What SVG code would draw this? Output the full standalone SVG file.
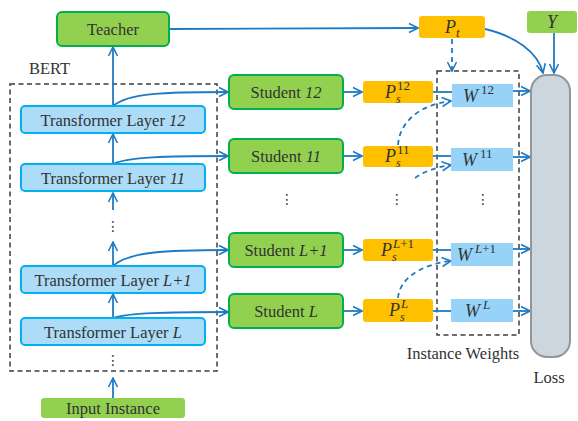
<svg xmlns="http://www.w3.org/2000/svg" width="578" height="421" viewBox="0 0 578 421">
<defs>
<marker id="ah" viewBox="0 0 12 12" refX="11" refY="6" markerWidth="12" markerHeight="12" markerUnits="userSpaceOnUse" orient="auto">
<path d="M2,1.5 L11,6 L2,10.5" fill="none" stroke="#1f7ac4" stroke-width="1.6"/>
</marker>
<style>
.lbl{font-family:"Liberation Serif","Times New Roman",serif;font-size:16.5px;fill:#333;}
.m{font-family:"Liberation Serif","Times New Roman",serif;fill:#333;}
.it{font-style:italic;}
.green{fill:#92d050;stroke:#00b050;stroke-width:2;}
.greenflat{fill:#92d050;}
.tl{fill:#acdcf7;stroke:#00b0f0;stroke-width:2;}
.ps{fill:#ffc000;}
.w{fill:#97d3f9;}
.conn{fill:none;stroke:#1f7ac4;stroke-width:1.8;}
.dconn{fill:none;stroke:#1f7ac4;stroke-width:1.8;stroke-dasharray:5,4;}
.dbox{fill:none;stroke:#3a3f44;stroke-width:1.5;stroke-dasharray:5,3.5;}
.dots{font-family:"DejaVu Sans",sans-serif;font-size:14px;fill:#333;}
</style>
</defs>
<rect width="578" height="421" fill="#fff"/>

<g id="bert-box">
<rect class="dbox" x="10" y="84" width="207" height="287"/>
<text class="lbl" x="29" y="74">BERT</text>
</g>
<g id="iw-box">
<rect class="dbox" x="437" y="71" width="82" height="264"/>
<text class="lbl" x="463" y="359" text-anchor="middle">Instance Weights</text>
</g>

<g id="connectors">
<path class="conn" d="M113,398 L113,378" marker-end="url(#ah)"/>
<path class="conn" d="M113,318 L113,294" marker-end="url(#ah)"/>
<path class="conn" d="M113,266 L113,242" marker-end="url(#ah)"/>
<path class="conn" d="M113,210 L113,193" marker-end="url(#ah)"/>
<path class="conn" d="M113,164 L113,134" marker-end="url(#ah)"/>
<path class="conn" d="M113,106 L113,47" marker-end="url(#ah)"/>
<path class="conn" d="M113,106 C128,93 165,92 228,92" marker-end="url(#ah)"/>
<path class="conn" d="M113,164 C128,157 165,156 228,156" marker-end="url(#ah)"/>
<path class="conn" d="M113,266 C128,252 165,250 228,250" marker-end="url(#ah)"/>
<path class="conn" d="M113,318 C128,313 165,312 228,312" marker-end="url(#ah)"/>
<path class="conn" d="M169,29 L418,28" marker-end="url(#ah)"/>
<path class="conn" d="M343,92 L362,92" marker-end="url(#ah)"/>
<path class="conn" d="M343,156 L362,156" marker-end="url(#ah)"/>
<path class="conn" d="M343,250 L362,250" marker-end="url(#ah)"/>
<path class="conn" d="M343,311 L362,311" marker-end="url(#ah)"/>
<path class="conn" d="M433,92 L452,92"/>
<path class="conn" d="M433,156 L452,156"/>
<path class="conn" d="M433,250 L452,250"/>
<path class="conn" d="M433,311 L452,311"/>
<path class="conn" d="M513,91 L530,91" marker-end="url(#ah)"/>
<path class="conn" d="M513,157 L530,157" marker-end="url(#ah)"/>
<path class="conn" d="M513,249 L530,249" marker-end="url(#ah)"/>
<path class="conn" d="M513,311 L530,311" marker-end="url(#ah)"/>
<path class="conn" d="M485,29 C515,36 538,52 543,73" marker-end="url(#ah)"/>
<path class="conn" d="M554,33 L554,73" marker-end="url(#ah)"/>
<path class="dconn" d="M452,39 L452,71" marker-end="url(#ah)"/>
<path class="dconn" d="M398,145 C400,118 425,104 451,101" marker-end="url(#ah)"/>
<path class="dconn" d="M415,178 C425,171 437,167 451,165" marker-end="url(#ah)"/>
<path class="dconn" d="M398,298 C400,276 425,264 451,261" marker-end="url(#ah)"/>
</g>

<g id="teacher">
<rect class="green" x="57" y="12" width="112" height="34" rx="5"/>
<text class="lbl" x="113" y="35" text-anchor="middle">Teacher</text>
</g>
<g id="tl12">
<rect class="tl" x="21" y="106" width="184" height="27" rx="4"/>
<text class="lbl" x="113" y="125.5" text-anchor="middle">Transformer Layer <tspan class="it">12</tspan></text>
</g>
<g id="tl11">
<rect class="tl" x="21" y="164" width="184" height="27" rx="4"/>
<text class="lbl" x="113" y="183.5" text-anchor="middle">Transformer Layer <tspan class="it">11</tspan></text>
</g>
<g id="tlL1">
<rect class="tl" x="21" y="266" width="184" height="27" rx="4"/>
<text class="lbl" x="113" y="285.5" text-anchor="middle">Transformer Layer <tspan class="it">L+1</tspan></text>
</g>
<g id="tlL">
<rect class="tl" x="21" y="318" width="184" height="27" rx="4"/>
<text class="lbl" x="113" y="337.5" text-anchor="middle">Transformer Layer <tspan class="it">L</tspan></text>
</g>
<g id="input">
<rect class="greenflat" x="41" y="398" width="144" height="20" rx="3"/>
<text class="lbl" x="113" y="414" text-anchor="middle">Input Instance</text>
</g>
<g id="dots-bert">
<text class="dots" x="113" y="231" text-anchor="middle">⋮</text>
<text class="dots" x="113" y="365" text-anchor="middle">⋮</text>
</g>

<g id="s12">
<rect class="green" x="229" y="75" width="114" height="34" rx="5"/>
<text class="lbl" x="286" y="98" text-anchor="middle">Student <tspan class="it">12</tspan></text>
</g>
<g id="s11">
<rect class="green" x="229" y="139" width="114" height="34" rx="5"/>
<text class="lbl" x="286" y="162" text-anchor="middle">Student <tspan class="it">11</tspan></text>
</g>
<g id="sL1">
<rect class="green" x="229" y="233" width="114" height="34" rx="5"/>
<text class="lbl" x="286" y="256" text-anchor="middle">Student <tspan class="it">L+1</tspan></text>
</g>
<g id="sL">
<rect class="green" x="229" y="294" width="114" height="34" rx="5"/>
<text class="lbl" x="286" y="317" text-anchor="middle">Student <tspan class="it">L</tspan></text>
</g>
<g id="dots-mid">
<text class="dots" x="287" y="204" text-anchor="middle">⋮</text>
<text class="dots" x="397" y="204" text-anchor="middle">⋮</text>
<text class="dots" x="483" y="204" text-anchor="middle">⋮</text>
</g>

<g id="pt">
<rect class="ps" x="419" y="16" width="66" height="22" rx="3"/>
<text class="m" font-size="18"><tspan class="it" x="445" y="33">P</tspan><tspan class="it" font-size="13" x="456" y="37">t</tspan></text>
</g>
<g id="y">
<rect class="greenflat" x="527" y="11" width="50" height="22" rx="3"/>
<text class="m it" font-size="18" x="552" y="28" text-anchor="middle">Y</text>
</g>
<g id="loss">
<rect x="531" y="75" width="39" height="282" rx="16" fill="#cdd5dd" stroke="#8e969e" stroke-width="2"/>
<text class="lbl" x="549" y="383" text-anchor="middle">Loss</text>
</g>

<g id="ps12">
<rect class="ps" x="363" y="81" width="70" height="22" rx="3"/>
<text class="m" font-size="18"><tspan class="it" x="385" y="98">P</tspan><tspan class="it" font-size="12" x="396" y="103">s</tspan><tspan font-size="13" x="397" y="90">12</tspan></text>
</g>
<g id="ps11">
<rect class="ps" x="363" y="146" width="70" height="21" rx="3"/>
<text class="m" font-size="18"><tspan class="it" x="385" y="162">P</tspan><tspan class="it" font-size="12" x="396" y="167">s</tspan><tspan font-size="13" x="397" y="154">11</tspan></text>
</g>
<g id="psL1">
<rect class="ps" x="363" y="239" width="70" height="22" rx="3"/>
<text class="m" font-size="18"><tspan class="it" x="381" y="256">P</tspan><tspan class="it" font-size="12" x="392" y="261">s</tspan><tspan font-size="13" x="393" y="248"><tspan class="it">L</tspan>+1</tspan></text>
</g>
<g id="psL">
<rect class="ps" x="363" y="299" width="70" height="23" rx="3"/>
<text class="m" font-size="18"><tspan class="it" x="389" y="316">P</tspan><tspan class="it" font-size="12" x="400" y="321">s</tspan><tspan class="it" font-size="13" x="401" y="308">L</tspan></text>
</g>

<g id="w12">
<rect class="w" x="452" y="84" width="61" height="23"/>
<text class="m" font-size="18"><tspan class="it" x="463" y="102">W</tspan><tspan font-size="13" x="481" y="94">12</tspan></text>
</g>
<g id="w11">
<rect class="w" x="451" y="148" width="62" height="23"/>
<text class="m" font-size="18"><tspan class="it" x="462" y="166">W</tspan><tspan font-size="13" x="480" y="158">11</tspan></text>
</g>
<g id="wL1">
<rect class="w" x="451" y="243" width="62" height="23"/>
<text class="m" font-size="18"><tspan class="it" x="457" y="261">W</tspan><tspan font-size="13" x="475" y="253"><tspan class="it">L</tspan>+1</tspan></text>
</g>
<g id="wL">
<rect class="w" x="451" y="299" width="62" height="23"/>
<text class="m" font-size="18"><tspan class="it" x="465" y="317">W</tspan><tspan class="it" font-size="13" x="483" y="309">L</tspan></text>
</g>
</svg>
